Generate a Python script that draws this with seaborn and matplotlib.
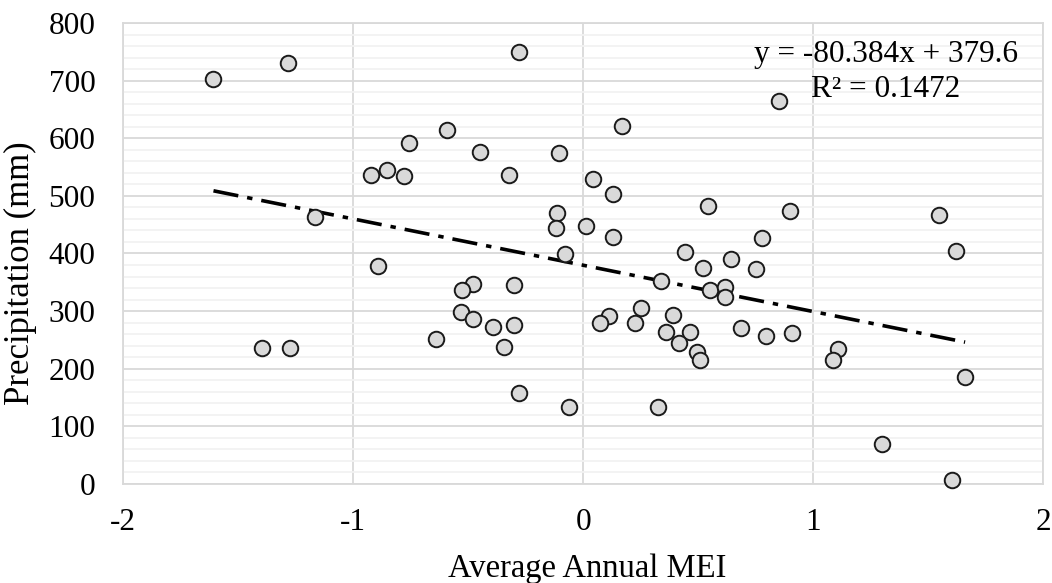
import numpy as np
import pandas as pd
import matplotlib
matplotlib.use("Agg")
import matplotlib.pyplot as plt
from matplotlib.ticker import MultipleLocator
import seaborn as sns

# ---- data ----
mei = [-1.607, -1.284, -0.277, -0.591, -0.757, -0.446, -0.106, -0.922, -0.854, -0.780,
       -0.320, -1.167, -0.113, -0.119, -0.077, -0.891, -0.480, -0.525, -0.299, 0.851,
       0.168, 0.042, 0.132, 0.013, 0.132, 0.543, 0.899, 1.549, 1.620, 0.778,
       0.443, 0.645, 0.752, 0.520, 0.338, 0.552, 0.615, 0.615, 0.114, 0.074,
       0.251, 0.225, 0.393, 0.361, 0.465, 0.419, 0.497, 0.507, 0.688, 0.797,
       0.910, 1.110, 1.088, 1.661, 1.299, 1.604, -0.061, 0.326, -0.530, -0.477,
       -0.390, -0.299, -0.640, -0.343, -1.397, -1.274, -0.278]
precip = [703, 730, 749, 615, 592, 576, 575, 537, 545, 535,
          536, 464, 470, 445, 399, 379, 347, 337, 345, 664,
          621, 529, 504, 448, 429, 483, 474, 466, 404, 426,
          402, 391, 373, 374, 352, 336, 341, 325, 292, 280,
          305, 279, 294, 263, 263, 245, 229, 215, 270, 257,
          262, 234, 215, 186, 70, 6, 133, 134, 299, 287,
          273, 275, 251, 238, 236, 236, 157]
slope = -80.384
intercept = 379.6
r_squared = 0.1472
x_ticks = [-2, -1, 0, 1, 2]
y_ticks = [0, 100, 200, 300, 400, 500, 600, 700, 800]

df = pd.DataFrame({"MEI": mei, "Precip": precip})
xs = np.array([min(mei), max(mei)])
trend = pd.DataFrame({"MEI": xs, "Precip": slope * xs + intercept})

sns.set_theme(style="white")
plt.rcParams["font.family"] = ["Liberation Serif", "DejaVu Serif"]

FS = 22.5
LFS = 23.5
fig = plt.figure(figsize=(10.52, 5.83), dpi=100)
ax = fig.add_axes([0.117, 0.170, 0.8745, 0.7905])

ax.set_xlim(-2, 2)
ax.set_ylim(0, 800)
ax.set_xticks(x_ticks)
ax.set_yticks(y_ticks)
ax.yaxis.set_minor_locator(MultipleLocator(20))
ax.grid(which="major", axis="both", color="#d9d9d9", linewidth=1.3)
ax.grid(which="minor", axis="y", color="#f2f2f2", linewidth=1.3)
ax.set_axisbelow(True)
for s in ax.spines.values():
    s.set_color("#d9d9d9")
    s.set_linewidth(1.3)

sns.lineplot(data=trend, x="MEI", y="Precip", ax=ax, color="black",
             linewidth=2.6, zorder=3)
ax.lines[-1].set_dashes([7, 2.5, 1.5, 2.5])

sns.scatterplot(data=df, x="MEI", y="Precip", ax=ax, s=125,
                color="#d9d9d9", edgecolor="#1a1a1a", linewidth=1.4, zorder=4,
                clip_on=False)

ax.text(1.317, 745, f"y = {slope}x + {intercept}", ha="center", va="center",
        fontsize=FS, color="black", zorder=5)
ax.text(1.317, 684, f"R² = {r_squared}", ha="center", va="center",
        fontsize=FS, color="black", zorder=5)

ax.tick_params(axis="both", which="both", length=0, labelsize=FS, colors="black")
ax.tick_params(axis="x", pad=17)
ax.tick_params(axis="y", pad=20)
ax.set_xticklabels([str(t) for t in x_ticks])
ax.set_yticklabels([str(t) for t in y_ticks])
ax.set_xlabel("Average Annual MEI", fontsize=LFS, color="black")
ax.set_ylabel("Precipitation (mm)", fontsize=25, color="black")
ax.xaxis.set_label_coords(0.505, -0.150)
ax.yaxis.set_label_coords(-0.0935, 0.458)

fig.savefig("out.png", dpi=100)
